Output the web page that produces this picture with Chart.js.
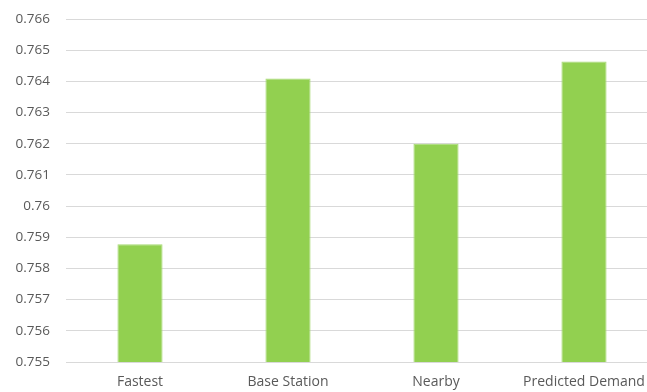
<!DOCTYPE html>
<html>
<head>
<meta charset="utf-8">
<script src="https://cdn.jsdelivr.net/npm/chart.js@4/dist/chart.umd.min.js"></script>
<style>
  html, body { margin: 0; padding: 0; background: #fff; overflow: hidden; }
  #wrap { width: 658px; height: 392px; }
</style>
</head>
<body>
<div id="wrap"><canvas id="myChart" width="658" height="392"></canvas></div>
<script>
// categories and scores
var strategies = ['Fastest', 'Base Station', 'Nearby', 'Predicted Demand'];
var scores = [0.75878, 0.76409, 0.762, 0.76464];

// y axis range
var yMin = 0.755;
var yMax = 0.766;
var yStep = 0.001;

var ctx = document.getElementById('myChart').getContext('2d');
var myChart = new Chart(ctx, {
  type: 'bar',
  data: {
    labels: strategies,
    datasets: [{
      data: scores,
      backgroundColor: '#92d050',
      borderColor: '#a6da73',
      borderWidth: 1,
      categoryPercentage: 1,
      barPercentage: 0.305
    }]
  },
  options: {
    responsive: false,
    animation: false,
    layout: { padding: { top: 19, right: 0, bottom: 0, left: 0 } },
    plugins: {
      legend: { display: false },
      tooltip: { enabled: false }
    },
    scales: {
      x: {
        grid: { display: false, drawTicks: false },
        border: { display: false },
        ticks: {
          color: '#595959',
          font: { family: 'Open Sans', size: 14 },
          padding: 12,
          maxRotation: 0,
          autoSkip: false
        },
        afterFit: function (axis) {
          axis.height = 30;
          axis.paddingLeft = 0;
          axis.paddingRight = 0;
        }
      },
      y: {
        min: yMin,
        max: yMax,
        grid: { color: '#d9d9d9', lineWidth: 1, drawTicks: false },
        border: { display: false },
        ticks: {
          stepSize: yStep,
          color: '#595959',
          font: { family: 'Open Sans', size: 13.5 },
          padding: 16,
          callback: function (value) { return String(+value.toFixed(3)); }
        },
        afterFit: function (axis) {
          axis.width = 66;
          axis.paddingTop = 0;
          axis.paddingBottom = 0;
        }
      }
    }
  }
});
</script>
</body>
</html>
